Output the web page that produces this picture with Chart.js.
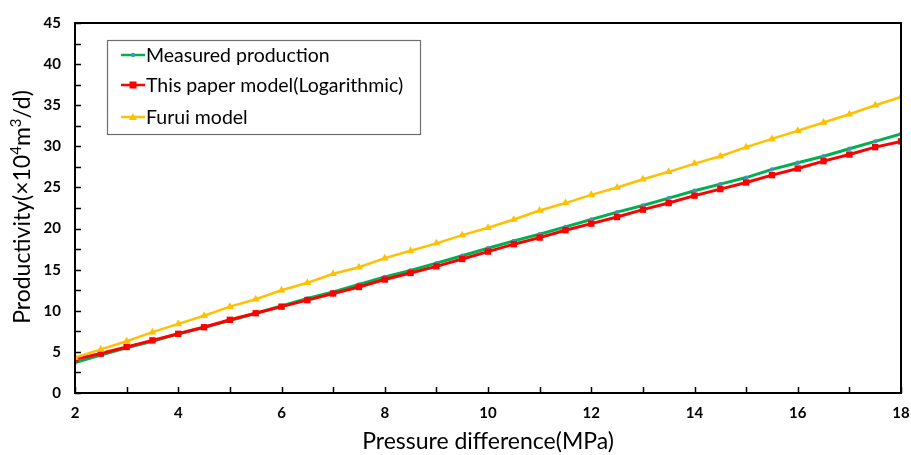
<!DOCTYPE html>
<html>
<head>
<meta charset="utf-8">
<script src="https://cdn.jsdelivr.net/npm/chart.js@4.4.1/dist/chart.umd.min.js"></script>
<style>
  html, body { margin: 0; padding: 0; background: #fff; }
  #wrap { width: 911px; height: 455px; position: relative; }
</style>
</head>
<body>
<div id="wrap"><canvas id="c" width="911" height="455"></canvas></div>
<script>
// Pressure difference (MPa)
const pressure = [2, 2.5, 3, 3.5, 4, 4.5, 5, 5.5, 6, 6.5, 7, 7.5, 8, 8.5, 9, 9.5, 10,
  10.5, 11, 11.5, 12, 12.5, 13, 13.5, 14, 14.5, 15, 15.5, 16, 16.5, 17, 17.5, 18];

// Productivity (×10^4 m3/d)
const measured = [3.7, 4.6, 5.5, 6.3, 7.2, 8.0, 8.8, 9.7, 10.6, 11.5, 12.3, 13.2, 14.1, 14.9,
  15.8, 16.7, 17.6, 18.5, 19.3, 20.2, 21.1, 22.0, 22.8, 23.7, 24.6, 25.4, 26.2, 27.2,
  28.0, 28.8, 29.7, 30.6, 31.5];
const logModel = [4.1, 4.8, 5.6, 6.4, 7.2, 8.0, 8.9, 9.7, 10.5, 11.3, 12.1, 12.9, 13.8, 14.6,
  15.4, 16.3, 17.2, 18.1, 18.9, 19.8, 20.6, 21.4, 22.3, 23.1, 24.0, 24.8, 25.6, 26.5,
  27.3, 28.2, 29.0, 29.9, 30.6];
const furui = [4.3, 5.3, 6.3, 7.4, 8.4, 9.4, 10.5, 11.4, 12.5, 13.4, 14.5, 15.3, 16.4, 17.3,
  18.2, 19.2, 20.1, 21.1, 22.2, 23.1, 24.1, 25.0, 26.0, 26.9, 27.9, 28.8, 29.9, 30.9,
  31.9, 32.9, 33.9, 35.0, 36.0];

const seriesNames = ['Measured production', 'This paper model(Logarithmic)', 'Furui model'];
const xTicks = [2, 4, 6, 8, 10, 12, 14, 16, 18];
const yTicks = [0, 5, 10, 15, 20, 25, 30, 35, 40, 45];

const FONT = 'Lato, "Open Sans", "Liberation Sans", sans-serif';

const pts = arr => arr.map((v, i) => ({ x: pressure[i], y: v }));

// Frame around the plot plus inward minor/major tick marks
const framePlugin = {
  id: 'frame',
  afterDraw(chart) {
    const { ctx, chartArea: a, scales: { x, y } } = chart;
    ctx.save();
    ctx.strokeStyle = '#000';
    ctx.lineWidth = 1.5;
    // x ticks every 1 MPa, pointing up into the plot
    for (let v = 2; v <= 18; v += 1) {
      const px = Math.round(x.getPixelForValue(v)) + 0.5;
      ctx.beginPath();
      ctx.moveTo(px, a.bottom);
      ctx.lineTo(px, a.bottom - 6);
      ctx.stroke();
    }
    // y ticks every 2.5, pointing right into the plot
    for (let v = 0; v <= 45; v += 2.5) {
      const py = Math.round(y.getPixelForValue(v)) + 0.5;
      ctx.beginPath();
      ctx.moveTo(a.left, py);
      ctx.lineTo(a.left + 6, py);
      ctx.stroke();
    }
    ctx.lineWidth = 2;
    ctx.strokeRect(a.left, a.top, a.right - a.left, a.bottom - a.top);
    ctx.restore();
  }
};

// Rotated y-axis title with real superscripts
const yTitlePlugin = {
  id: 'yTitle',
  afterDraw(chart) {
    const { ctx } = chart;
    const size = 23, sup = 15;
    const parts = [
      ['Productivity(×10', size, 0],
      ['4', sup, -9],
      ['m', size, 0],
      ['3', sup, -9],
      ['/d)', size, 0]
    ];
    ctx.save();
    let total = 0;
    parts.forEach(p => { ctx.font = p[1] + 'px ' + FONT; total += ctx.measureText(p[0]).width; });
    ctx.translate(30, 207);
    ctx.rotate(-Math.PI / 2);
    ctx.fillStyle = '#000';
    ctx.textBaseline = 'alphabetic';
    ctx.textAlign = 'left';
    let xx = -total / 2;
    parts.forEach(p => {
      ctx.font = p[1] + 'px ' + FONT;
      ctx.fillText(p[0], xx, p[2]);
      xx += ctx.measureText(p[0]).width;
    });
    ctx.restore();
  }
};

// Boxed legend inside the plot area
const legendPlugin = {
  id: 'boxLegend',
  afterDraw(chart) {
    const { ctx } = chart;
    const bx = 107, by = 40, bw = 313, bh = 94;
    ctx.save();
    ctx.fillStyle = '#fff';
    ctx.fillRect(bx, by, bw, bh);
    ctx.strokeStyle = '#6e6e6e';
    ctx.lineWidth = 1.2;
    ctx.strokeRect(bx + 0.5, by + 0.5, bw, bh);
    const rows = [55, 85, 117];
    chart.data.datasets.forEach((ds, i) => {
      const yy = rows[i];
      ctx.strokeStyle = ds.borderColor;
      ctx.lineWidth = 2.5;
      ctx.beginPath();
      ctx.moveTo(121, yy);
      ctx.lineTo(145, yy);
      ctx.stroke();
      ctx.fillStyle = ds.pointBackgroundColor;
      const cx = 133;
      if (ds.pointStyle === 'rect') {
        ctx.fillRect(cx - 3.5, yy - 3.5, 7, 7);
      } else if (ds.pointStyle === 'triangle') {
        ctx.beginPath();
        ctx.moveTo(cx, yy - 4);
        ctx.lineTo(cx + 4, yy + 3);
        ctx.lineTo(cx - 4, yy + 3);
        ctx.closePath();
        ctx.fill();
      } else {
        ctx.beginPath();
        ctx.arc(cx, yy, 2.2, 0, Math.PI * 2);
        ctx.fill();
      }
      ctx.fillStyle = '#000';
      ctx.font = '19.5px ' + FONT;
      ctx.textBaseline = 'middle';
      ctx.textAlign = 'left';
      ctx.fillText(ds.label, 146, yy + 1);
    });
    ctx.restore();
  }
};

new Chart(document.getElementById('c'), {
  type: 'line',
  data: {
    datasets: [
      {
        label: seriesNames[0],
        data: pts(measured),
        borderColor: '#00B050',
        borderWidth: 3,
        pointStyle: 'circle',
        pointRadius: 2.2,
        pointBackgroundColor: '#3f95b5',
        pointBorderWidth: 0,
        order: 2
      },
      {
        label: seriesNames[1],
        data: pts(logModel),
        borderColor: '#FF0000',
        borderWidth: 3,
        pointStyle: 'rect',
        pointRadius: 4.5,
        pointBackgroundColor: '#FF0000',
        pointBorderWidth: 0,
        order: 1
      },
      {
        label: seriesNames[2],
        data: pts(furui),
        borderColor: '#FFC000',
        borderWidth: 2.5,
        pointStyle: 'triangle',
        pointRadius: 4.5,
        pointBackgroundColor: '#FFC000',
        pointBorderWidth: 0,
        order: 0
      }
    ]
  },
  options: {
    responsive: false,
    animation: false,
    layout: { padding: { top: 19, right: 0, left: 0, bottom: 0 } },
    plugins: { legend: { display: false }, tooltip: { enabled: false } },
    elements: { line: { tension: 0 } },
    scales: {
      x: {
        type: 'linear',
        min: 2, max: 18,
        afterBuildTicks: s => { s.ticks = xTicks.map(v => ({ value: v })); },
        afterFit: s => { s.height = 62; s.paddingRight = 10; },
        grid: { display: false, drawTicks: false },
        border: { display: false },
        ticks: {
          padding: 11,
          color: '#000',
          font: { family: FONT, size: 15, weight: 'bold' },
          maxRotation: 0
        },
        title: {
          display: true,
          text: 'Pressure difference(MPa)',
          color: '#000',
          font: { family: FONT, size: 23 },
          padding: { top: 2, bottom: 0 }
        }
      },
      y: {
        type: 'linear',
        min: 0, max: 45,
        afterBuildTicks: s => { s.ticks = yTicks.map(v => ({ value: v })); },
        afterFit: s => { s.width = 75; },
        grid: { display: false, drawTicks: false },
        border: { display: false },
        ticks: {
          padding: 14,
          color: '#000',
          font: { family: FONT, size: 15, weight: 'bold' }
        },
        title: { display: false }
      }
    }
  },
  plugins: [framePlugin, yTitlePlugin, legendPlugin]
});
</script>
</body>
</html>
